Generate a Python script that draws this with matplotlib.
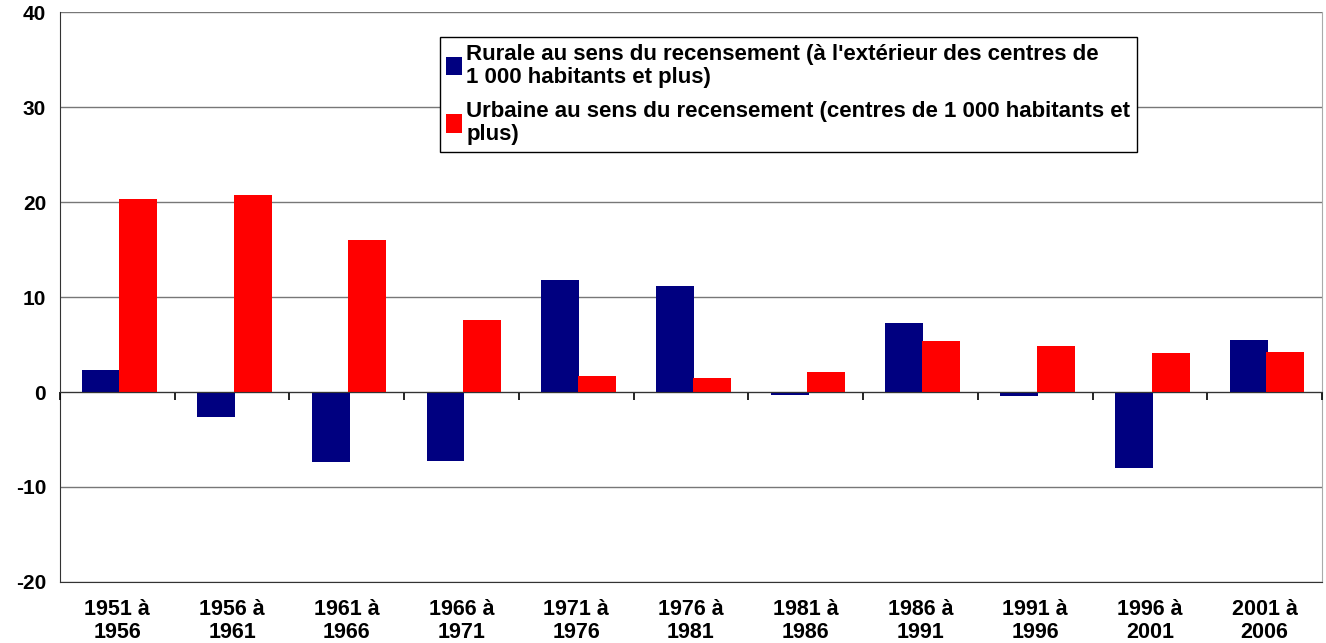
import matplotlib.pyplot as plt
import numpy as np

# Data
periods = ['1951 à\n1956', '1956 à\n1961', '1961 à\n1966', '1966 à\n1971', '1971 à\n1976',
           '1976 à\n1981', '1981 à\n1986', '1986 à\n1991', '1991 à\n1996', '1996 à\n2001',
           '2001 à\n2006']
rurale = [2.3, -2.6, -7.4, -7.3, 11.8, 11.2, -0.3, 7.3, -0.4, -8.0, 5.5]
urbaine = [20.3, 20.7, 16.0, 7.6, 1.7, 1.5, 2.1, 5.4, 4.8, 4.1, 4.2]
label_rurale = "Rurale au sens du recensement (à l'extérieur des centres de\n1 000 habitants et plus)"
label_urbaine = "Urbaine au sens du recensement (centres de 1 000 habitants et\nplus)"

plt.rcParams['font.family'] = ['Liberation Sans', 'DejaVu Sans']
plt.rcParams['font.weight'] = 'bold'
plt.rcParams['axes.unicode_minus'] = False

fig = plt.figure(figsize=(13.26, 6.43), dpi=100)
ax = fig.add_axes([0.0452, 0.095, 0.9518, 0.886])

x = np.arange(len(periods))
w = 0.33
ax.bar(x - 0.14, rurale, w, color='#000080', label=label_rurale, zorder=3)
ax.bar(x + 0.18, urbaine, w, color='#ff0000', label=label_urbaine, zorder=3)

ax.set_xlim(-0.5, len(periods) - 0.5)
ax.set_ylim(-20, 40)
ax.set_yticks(range(-20, 41, 10))
ax.yaxis.grid(True, color='#777777', linewidth=1)
ax.set_axisbelow(True)
ax.tick_params(axis='y', length=0, pad=10, labelsize=15)
ax.set_xticks(x)
ax.set_xticklabels(periods, fontsize=15.5, linespacing=1.15)
ax.tick_params(axis='x', length=0, pad=12)

ax.spines['left'].set_color('#333333')
ax.spines['right'].set_color('#aaaaaa')
ax.spines['top'].set_visible(False)
ax.spines['bottom'].set_color('#333333')

# zero line with category boundary ticks
zero = ax.secondary_xaxis(1 / 3)
zero.set_xticks(np.arange(len(periods) + 1) - 0.5)
zero.set_xticklabels([])
zero.tick_params(axis='x', direction='out', length=6, color='black', width=1.2)
zero.spines['bottom'].set_color('#333333')
zero.set_zorder(4)

leg = ax.legend(loc='upper left', bbox_to_anchor=(0.301, 0.956), fontsize=16,
                frameon=True, fancybox=False, edgecolor='black', framealpha=1,
                handlelength=0.7, handleheight=0.9, handletextpad=0.2,
                borderpad=0.3, labelspacing=0.6, borderaxespad=0)
leg.get_frame().set_linewidth(1)
for t in leg.get_texts():
    t.set_linespacing(1.12)
leg.set_zorder(5)

fig.savefig('out.png', dpi=100)
